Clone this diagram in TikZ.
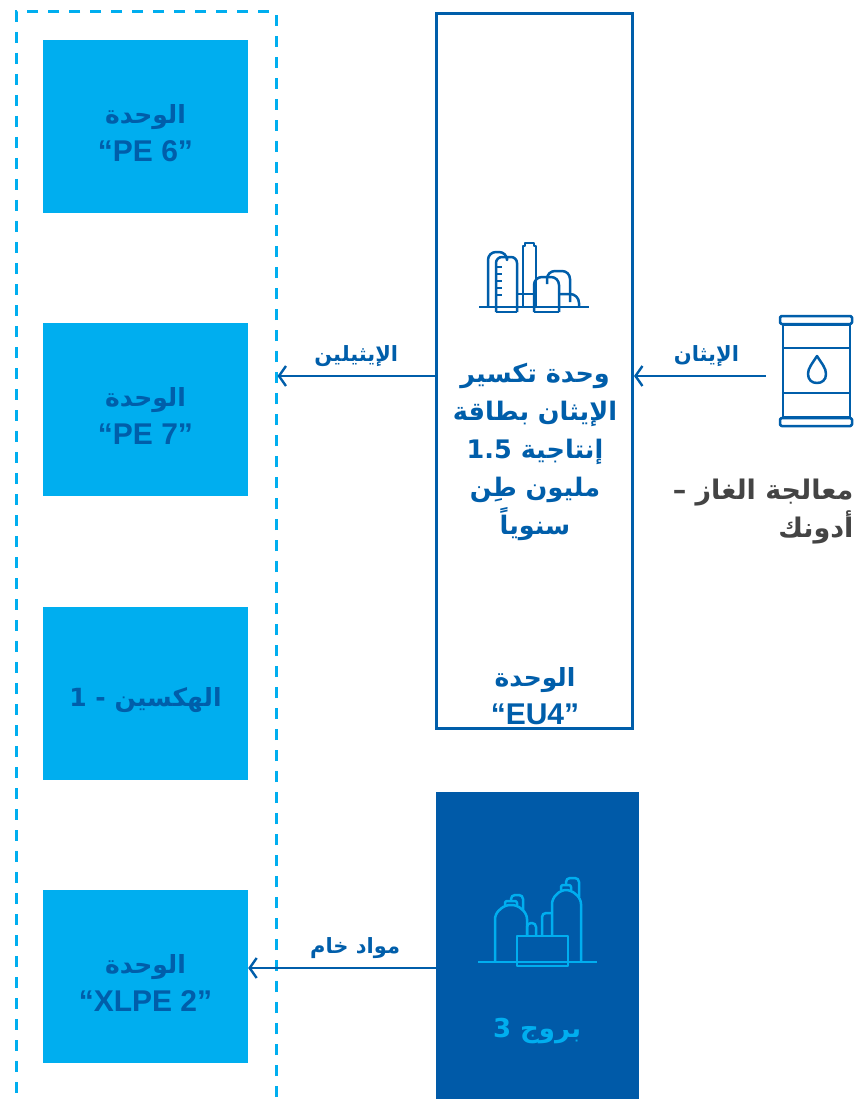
\documentclass[tikz,border=0pt]{standalone}
\usepackage{fontspec}
\usetikzlibrary{arrows.meta,positioning}
\TeXXeTstate=1
\newfontfamily\arabicfont[Script=Arabic]{DejaVu Sans}
\newfontfamily\latinfont{Liberation Sans}
\newcommand{\artext}[1]{{\arabicfont\beginR #1\endR}}
\newcommand{\latext}[1]{{\latinfont\fontsize{30}{38}\selectfont #1}}
\newcommand{\unitstrut}{\rule{0pt}{32pt}}
\definecolor{skyblue}{RGB}{0,174,239}
\definecolor{deepblue}{RGB}{0,94,170}
\definecolor{nightblue}{RGB}{0,90,168}
\definecolor{inkgray}{RGB}{68,68,68}
\tikzset{
  unitbox/.style={fill=skyblue, minimum width=205pt, minimum height=173pt, inner sep=0pt,
    text=deepblue, align=center, font=\bfseries\fontsize{25}{38}\selectfont},
  groupline/.style={draw=skyblue, line width=3pt, dash pattern=on 11pt off 10pt},
  flow/.style={draw=deepblue, line width=2.4pt, -{Straight Barb[length=7pt,width=20pt,line width=2.4pt]}},
  flowlabel/.style={text=deepblue, font=\bfseries\fontsize{21}{24}\selectfont},
  iconline/.style={line width=2.5pt, line join=round}
}
\begin{document}
\begin{tikzpicture}[x=1pt,y=-1pt]
\clip (0,0) rectangle (862,1099);
\useasboundingbox (0,0) rectangle (862,1099);
\fill[white] (0,0) rectangle (862,1099);

% polymer units on the left
\node[groupline, minimum width=260pt, minimum height=1098pt] (grp) at (146,561) {};
\node[unitbox] (pe6) at (145.5,126.5) {\unitstrut\artext{الوحدة}\\\latext{“PE 6”}};
\node[unitbox] (pe7) at (145.5,409.5) {\unitstrut\artext{الوحدة}\\\latext{“PE 7”}};
\node[unitbox] (hex) at (145.5,693.5) {\unitstrut\artext{الهكسين - 1}};
\node[unitbox] (xlpe) at (145.5,976.5) {\unitstrut\artext{الوحدة}\\\latext{“XLPE 2”}};

% cracker unit
\node[draw=deepblue, line width=3pt, minimum width=196pt, minimum height=715pt] (eu4) at (534.5,371) {};
\node[text=deepblue, align=center, font=\bfseries\fontsize{25.5}{38}\selectfont] (eu4txt) at (535,452)
  {\artext{وحدة تكسير}\\\artext{الإيثان بطاقة}\\\artext{إنتاجية \beginL1.5\endL}\\\artext{مليون طِن}\\\artext{سنوياً}};
\node[text=deepblue, align=center, font=\bfseries\fontsize{25}{38}\selectfont] (eu4name) at (535,696)
  {\artext{الوحدة}\\\latext{“EU4”}};
\begin{scope}[draw=deepblue, iconline]
\draw (479,307) -- (589,307);
\draw[rounded corners=8pt] (488,307) -- (488,252) -- (507,252) -- (507,258);
\draw[rounded corners=6pt] (496,312) -- (496,257) -- (517,257) -- (517,312);
\draw (496,312) -- (517,312);
\foreach \t in {267,274,281,288,295}
  \draw (496,\t) -- (502,\t);
\draw (523,307) -- (523,246) -- (525,246) -- (525,243) -- (534,243) -- (534,246) -- (536,246) -- (536,307);
\draw (517,294) -- (534,294);
\draw[rounded corners=8pt] (547,284) -- (547,271) -- (570,271) -- (570,302);
\draw[rounded corners=8pt] (534,312) -- (534,277) -- (559,277) -- (559,312);
\draw (534,312) -- (559,312);
\draw[rounded corners=9pt] (559,294) -- (579,294) -- (579,307);
\end{scope}

% gas processing
\node[draw=deepblue, line width=2.5pt, minimum width=67pt, minimum height=92pt] (barrel) at (816.5,371) {};
\begin{scope}[draw=deepblue, iconline]
\draw[rounded corners=1.5pt] (780,316) rectangle (852,324);
\draw[rounded corners=1.5pt] (780,418) rectangle (852,426);
\draw (barrel.west |- 0,348) -- (barrel.east |- 0,348);
\draw (barrel.west |- 0,393) -- (barrel.east |- 0,393);
\draw (817,356) .. controls (812,364) and (808,368) .. (808,374)
  .. controls (808,380) and (812,383) .. (817,383)
  .. controls (822,383) and (826,380) .. (826,374)
  .. controls (826,368) and (822,364) .. cycle;
\end{scope}
\node[text=inkgray, align=right, anchor=north east, font=\bfseries\fontsize{27}{38}\selectfont] (adnoc) at (857,475)
  {\artext{معالجة الغاز –}\\\artext{أدونك}};

% borouge
\node[fill=nightblue, minimum width=203pt, minimum height=307pt, inner sep=0pt] (borouge) at (537.5,945.5) {};
\node[text=skyblue, font=\bfseries\fontsize{26}{32}\selectfont] (borname) at (537,1031) {\artext{بروج 3}};
\begin{scope}[draw=skyblue, iconline]
\draw (478,962) -- (597,962);
\draw[rounded corners=5pt] (495,962) -- (495,914) -- (505,905) -- (517,905) -- (527,914) -- (527,936);
\draw[rounded corners=2pt] (505,905) -- (505,901) -- (517,901) -- (517,905);
\draw[rounded corners=4pt] (511,901) -- (511,895) -- (523,895) -- (523,910);
\draw[rounded corners=4pt] (527,936) -- (527,923) -- (536,923) -- (536,936);
\draw (517,936) rectangle (568,966);
\draw[rounded corners=4pt] (542,936) -- (542,913) -- (552,913);
\draw[rounded corners=5pt] (552,936) -- (552,899) -- (561,890) -- (571,890) -- (581,899) -- (581,962);
\draw[rounded corners=2pt] (561,890) -- (561,885) -- (571,885) -- (571,890);
\draw[rounded corners=4pt] (566,885) -- (566,878) -- (579,878) -- (579,897);
\end{scope}

% flows
\path ([yshift=-5pt]eu4.west) coordinate (eu4out);
\draw[flow] (eu4out) -- node[flowlabel, above=5pt, pos=0.5] {\artext{الإيثيلين}} (eu4out -| grp.east);
\draw[flow, shorten <=16pt] (barrel.west |- eu4out) -- node[flowlabel, above=5pt, pos=0.51] {\artext{الإيثان}} (eu4.east |- eu4out);
\path ([yshift=-22.5pt]borouge.west) coordinate (borout);
\draw[flow] (borout) -- node[flowlabel, above=5pt, pos=0.43] {\artext{مواد خام}} (borout -| xlpe.east);
\end{tikzpicture}
\end{document}
